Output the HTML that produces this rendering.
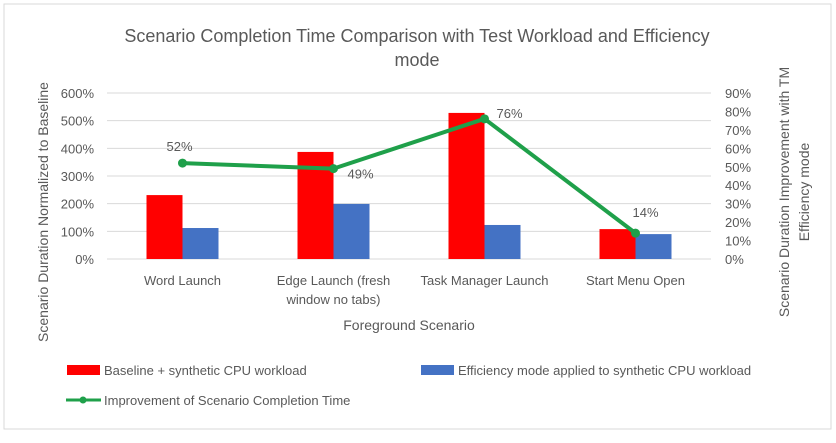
<!DOCTYPE html>
<html><head><meta charset="utf-8"><style>
body{margin:0;background:#fff}
svg text{font-family:"Liberation Sans",sans-serif;fill:#595959}
</style></head><body>
<svg id="c" width="836" height="438">
<rect x="4" y="4" width="827" height="425" fill="#fff" stroke="#d9d9d9"/>
<text x="417" y="42" font-size="18" text-anchor="middle">Scenario Completion Time Comparison with Test Workload and Efficiency</text>
<text x="417" y="66" font-size="18" text-anchor="middle">mode</text>
<g id="grid"></g><g id="bars"></g><g id="line"></g><g id="axes"></g>
<text transform="translate(48,212) rotate(-90)" font-size="14" text-anchor="middle">Scenario Duration Normalized to Baseline</text>
<text transform="translate(789,192) rotate(-90)" font-size="14" text-anchor="middle">Scenario Duration Improvement with TM</text>
<text transform="translate(809,192) rotate(-90)" font-size="14" text-anchor="middle">Efficiency mode</text>
<text x="409" y="330" font-size="14" text-anchor="middle">Foreground Scenario</text>
<rect x="67" y="365" width="33" height="10" fill="#ff0000"/>
<text x="104" y="375" font-size="13">Baseline + synthetic CPU  workload</text>
<rect x="421" y="365" width="33" height="10" fill="#4472c4"/>
<text x="458" y="375" font-size="13">Efficiency mode applied to synthetic CPU workload</text>
<line x1="66" y1="400" x2="101" y2="400" stroke="#1fa04a" stroke-width="3"/>
<circle cx="83" cy="400" r="3.5" fill="#1fa04a"/>
<text x="104" y="405" font-size="13">Improvement of Scenario Completion Time</text>
</svg>
<script>
const categories=[["Word Launch"],["Edge Launch (fresh","window no tabs)"],["Task Manager Launch"],["Start Menu Open"]];
const baseline=[231,387,528,108];
const efficiency=[112,199,123,90];
const improvement=[52,49,76,14];
const leftTicks=[0,100,200,300,400,500,600];
const rightTicks=[0,10,20,30,40,50,60,70,80,90];
const NS="http://www.w3.org/2000/svg";
const X0=107,X1=711,Y0=259,Y1=93;
const yL=v=>Y0-(v/600)*(Y0-Y1);
const yR=v=>Y0-(v/90)*(Y0-Y1);
const cw=(X1-X0)/categories.length;
const xC=i=>X0+cw*(i+0.5);
function mk(t,a,p){const e=document.createElementNS(NS,t);for(const k in a)e.setAttribute(k,a[k]);document.getElementById(p).appendChild(e);return e;}
leftTicks.forEach(v=>{
 const l=mk("line",{x1:X0,x2:X1,y1:yL(v),y2:yL(v),stroke:"#d9d9d9"},"grid");
 
 
 const t=mk("text",{x:94,y:yL(v)+5,"font-size":13,"text-anchor":"end"},"axes");t.textContent=v+"%";
 
 
});
rightTicks.forEach(v=>{
 const t=mk("text",{x:725,y:yR(v)+5,"font-size":13},"axes");t.textContent=v+"%";
 
 
});
categories.forEach((c,i)=>{
 c.forEach((s,j)=>{const t=mk("text",{x:xC(i),y:285+j*19,"font-size":13,"text-anchor":"middle"},"axes");t.textContent=s;
 
 });
 const r=mk("rect",{x:xC(i)-36,y:yL(baseline[i]),width:36,height:Y0-yL(baseline[i]),fill:"#ff0000"},"bars");
 
 
 const b=mk("rect",{x:xC(i),y:yL(efficiency[i]),width:36,height:Y0-yL(efficiency[i]),fill:"#4472c4"},"bars");
 
 
});
const pts=improvement.map((v,i)=>xC(i)+","+yR(v)).join(" ");
const pl=mk("polyline",{points:pts,fill:"none",stroke:"#1fa04a","stroke-width":4,"stroke-linejoin":"round"},"line");


const offs=[[-3,-16,"middle"],[14,6,"start"],[12,-5,"start"],[10,-20,"middle"]];
improvement.forEach((v,i)=>{
 const c=mk("circle",{cx:xC(i),cy:yR(v),r:4.5,fill:"#1fa04a"},"line");
 
 
 const o=offs[i];
 const t=mk("text",{x:xC(i)+o[0],y:yR(v)+o[1]+4,"font-size":13,"text-anchor":o[2]},"line");t.textContent=v+"%";
 
 
});
</script>
</body></html>
